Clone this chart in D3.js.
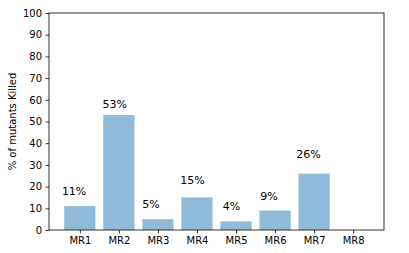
<!DOCTYPE html>
<html>
<head>
<meta charset="utf-8">
<script src="https://cdn.jsdelivr.net/npm/d3@7"></script>
<style>
  body { margin: 0; background: #fff; }
  text { font-family: "DejaVu Sans", sans-serif; fill: #000; }
  .axis path, .axis line { stroke: #000; stroke-width: 0.8; }
</style>
</head>
<body>
<script>
// data
let names=['MR1','MR2','MR3','MR4','MR5','MR6','MR7','MR8'];
let killed=[11,53,5,15,4,9,26,0];
let labels=['11%','53%','5%','15%','4%','9%','26%'];
// where each label sits, in data units (x = bar index, y = % axis)
let labelX=[-0.46,0.58,1.6,2.57,3.66,4.62,5.54];
let labelY=[16,56,10,21,9,14,33];
let yTicks=[0,10,20,30,40,50,60,70,80,90,100];

let W=409,H=253;
let mLeft=49,mTop=13,mRight=384,mBottom=230;

let svg=d3.select('body').append('svg').attr('width',W).attr('height',H);

let x=d3.scaleLinear().domain([-0.79,names.length-1+0.79]).range([mLeft,mRight]);
let y=d3.scaleLinear().domain([0,100]).range([mBottom,mTop]);
let barW=x(0.8)-x(0);

svg.selectAll('rect.bar').data(killed).enter().append('rect')
  .attr('class','bar')
  .attr('x',(d,i)=>x(i-0.4))
  .attr('y',d=>y(d))
  .attr('width',barW)
  .attr('height',d=>y(0)-y(d))
  .attr('fill','#1f77b4')
  .attr('fill-opacity',0.5);

svg.selectAll('text.lbl').data(labels).enter().append('text')
  .attr('class','lbl')
  .attr('x',(d,i)=>x(labelX[i]))
  .attr('y',(d,i)=>y(labelY[i]))
  .attr('font-size','11px')
  .text(d=>d);

// axes
let xAxis=d3.axisBottom(x).tickValues(d3.range(names.length)).tickFormat(i=>names[i]).tickSize(3.5).tickPadding(3.5);
svg.append('g').attr('class','axis').attr('transform','translate(0,'+mBottom+')').call(xAxis)
  .call(g=>g.select('.domain').remove())
  .selectAll('text').attr('font-size','10px');

let yAxis=d3.axisLeft(y).tickValues(yTicks).tickSize(3.5).tickPadding(3.5);
svg.append('g').attr('class','axis').attr('transform','translate('+mLeft+',0)').call(yAxis)
  .call(g=>g.select('.domain').remove())
  .selectAll('text').attr('font-size','10px');

// frame
svg.append('rect').attr('x',mLeft).attr('y',mTop).attr('width',mRight-mLeft).attr('height',mBottom-mTop)
  .attr('fill','none').attr('stroke','#000').attr('stroke-width',0.8);

svg.append('text')
  .attr('transform','translate(16,'+((mTop+mBottom)/2)+') rotate(-90)')
  .attr('text-anchor','middle')
  .attr('font-size','10px')
  .text('% of mutants Killed');
</script>
</body>
</html>
